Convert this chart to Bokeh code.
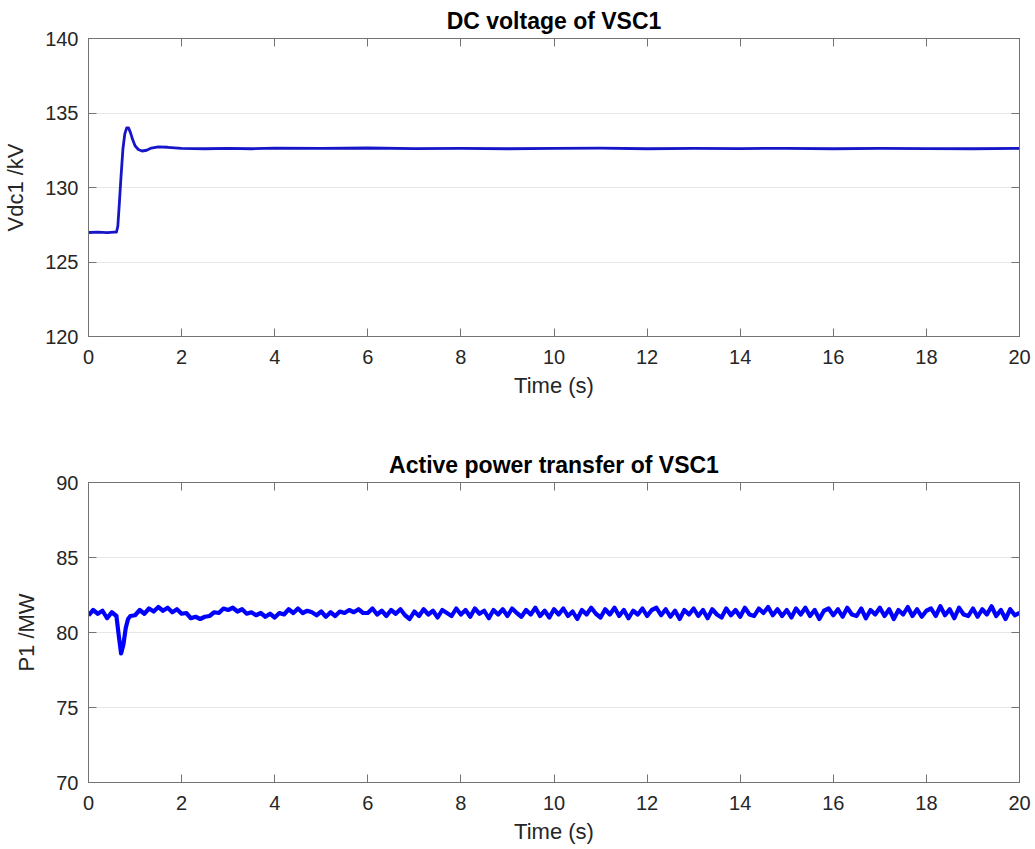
import numpy as np
from bokeh.plotting import figure
from bokeh.layouts import column
from bokeh.models import LinearAxis, Range1d, FixedTicker
from bokeh.embed import file_html
from bokeh.resources import INLINE

# ---- DC voltage of VSC1 (kV) ----
vdc_time = [0.0, 0.2, 0.4, 0.55, 0.6, 0.63, 0.66, 0.7, 0.74, 0.78,
            0.82, 0.86, 0.9, 0.95, 1.0, 1.07, 1.15, 1.25, 1.35, 1.5,
            1.7, 2.0, 2.5, 3.0, 3.5, 4.0, 5.0, 6.0, 7.0, 8.0,
            9.0, 10.0, 11.0, 12.0, 13.0, 14.0, 15.0, 16.0, 17.0, 18.0,
            19.0, 20.0]
vdc_kv = [126.98, 127.0, 126.97, 127.0, 127.0, 127.4, 128.8, 130.8, 132.6, 133.6,
          134.0, 134.0, 133.7, 133.2, 132.8, 132.55, 132.45, 132.5, 132.65, 132.72,
          132.7, 132.62, 132.6, 132.63, 132.6, 132.64, 132.62, 132.65, 132.61, 132.63,
          132.6, 132.62, 132.64, 132.6, 132.62, 132.61, 132.63, 132.6, 132.62, 132.61,
          132.6, 132.62]

# ---- Active power of VSC1 (MW) ----
# sample instants: 0.1 s before the disturbance, 0.05 s through it, 0.1 s afterwards
p1_time = np.round(np.concatenate([
    np.arange(0.0, 0.61, 0.1),
    np.arange(0.65, 0.91, 0.05),
    np.arange(1.0, 20.01, 0.1),
]), 2)
p1_mw = [
    81.15, 81.5, 81.25, 81.45, 80.95, 81.35, 81.1,
    79.8, 78.6, 79.2, 80.3, 80.9, 81.1,
    81.15, 81.5, 81.25, 81.6, 81.4, 81.7, 81.45, 81.65, 81.35, 81.55,
    81.25, 81.3, 80.95, 81.05, 80.9, 81.05, 81.1, 81.35, 81.3, 81.6,
    81.5, 81.65, 81.4, 81.55, 81.25, 81.35, 81.15, 81.3, 81.05, 81.25,
    81.0, 81.3, 81.2, 81.55, 81.3, 81.6, 81.3, 81.45, 81.35, 81.15,
    81.4, 81.05, 81.35, 81.1, 81.4, 81.3, 81.5, 81.35, 81.55, 81.3,
    81.3, 81.6, 81.2, 81.45, 81.1, 81.5, 81.25, 81.55, 81.15, 80.9,
    81.4, 81.1, 81.55, 81.2, 81.45, 81.0, 81.5, 81.3, 81.1, 81.6,
    81.2, 81.5, 81.05, 81.6, 81.25, 81.45, 80.95, 81.5, 81.2, 81.55,
    81.1, 81.6, 81.3, 81.05, 81.5, 81.2, 81.65, 81.1, 81.45, 81.0,
    81.55, 81.2, 81.6, 81.1, 81.4, 80.9, 81.5, 81.2, 81.65, 81.25,
    81.0, 81.55, 81.2, 81.65, 81.1, 81.5, 80.95, 81.45, 81.2, 81.6,
    81.1, 81.5, 81.65, 81.15, 81.55, 81.05, 81.45, 80.9, 81.5, 81.2,
    81.6, 81.1, 81.5, 80.95, 81.55, 81.2, 81.0, 81.6, 81.15, 81.5,
    81.05, 81.65, 81.2, 81.1, 81.6, 81.3, 81.7, 81.15, 81.55, 81.1,
    81.5, 81.0, 81.6, 81.2, 81.65, 81.1, 81.5, 80.9, 81.45, 81.6,
    81.15, 81.55, 81.05, 81.65, 81.2, 81.1, 81.6, 80.95, 81.5, 81.2,
    81.65, 81.1, 81.55, 80.9, 81.5, 81.2, 81.7, 81.1, 81.55, 81.05,
    81.45, 81.6, 81.1, 81.75, 81.15, 81.55, 80.95, 81.65, 81.2, 81.1,
    81.6, 81.05, 81.55, 81.2, 81.75, 81.1, 81.5, 80.9, 81.55, 81.15,
    81.3,
]

time_ticks = [0, 2, 4, 6, 8, 10, 12, 14, 16, 18, 20]
vdc_ticks = [120, 125, 130, 135, 140]
p1_ticks = [70, 75, 80, 85, 90]

FONT = "Liberation Sans"
AXIS_GRAY = "#737373"
TEXT_GRAY = "#262626"


def style_axis(ax, ticker, show_labels=True):
    ax.ticker = FixedTicker(ticks=ticker)
    ax.axis_line_color = AXIS_GRAY
    ax.major_tick_line_color = AXIS_GRAY
    ax.major_tick_in = 8
    ax.major_tick_out = 0
    ax.minor_tick_in = 0
    ax.minor_tick_out = 0
    ax.major_label_text_font = FONT
    ax.axis_label_text_font = FONT
    ax.axis_label_text_color = TEXT_GRAY
    ax.axis_label_text_font_style = "normal"
    ax.axis_label_text_font_size = "22px"
    if show_labels:
        ax.major_label_text_font_size = "20px"
        ax.major_label_text_color = TEXT_GRAY
    else:
        # tick marks only on the box sides
        ax.major_label_text_font_size = "1px"
        ax.major_label_text_color = None
        ax.major_label_standoff = 0


def make_panel(title, ylabel, t, y, yticks, color, lw, height, top, bottom):
    p = figure(width=1035, height=height,
               x_range=Range1d(0, 20), y_range=Range1d(yticks[0], yticks[-1]),
               output_backend="svg", toolbar_location=None,
               min_border_left=87, min_border_right=16,
               min_border_top=top, min_border_bottom=bottom)
    p.title.text = title
    p.title.align = "center"
    p.title.text_font = FONT
    p.title.text_font_size = "23px"
    p.title.text_font_style = "bold"
    p.title.text_color = "#000000"

    p.line(t, y, line_color=color, line_width=lw, line_join="round")

    style_axis(p.xaxis[0], time_ticks)
    style_axis(p.yaxis[0], yticks)
    p.xaxis.axis_label = "Time (s)"
    p.yaxis.axis_label = ylabel
    p.xaxis.major_label_standoff = 13
    p.yaxis.major_label_standoff = 10
    p.xaxis.axis_label_standoff = 6
    p.yaxis.axis_label_standoff = 14

    top_ax = LinearAxis()
    style_axis(top_ax, time_ticks, show_labels=False)
    p.add_layout(top_ax, "above")
    right_ax = LinearAxis()
    style_axis(right_ax, yticks, show_labels=False)
    p.add_layout(right_ax, "right")

    p.xgrid.visible = False
    p.ygrid.ticker = FixedTicker(ticks=yticks)
    p.ygrid.grid_line_color = "#e6e6e6"
    p.ygrid.grid_line_width = 1
    p.outline_line_color = AXIS_GRAY
    p.background_fill_color = "white"
    p.border_fill_color = "white"
    return p


p_top = make_panel("DC voltage of VSC1", "Vdc1 /kV", vdc_time, vdc_kv,
                   vdc_ticks, "#1616c8", 2.8, 400, 36, 64)
p_bot = make_panel("Active power transfer of VSC1", "P1 /MW", p1_time, p1_mw,
                   p1_ticks, "#0000ff", 4.2, 449, 82, 67)

p = column(p_top, p_bot, spacing=0)

open("out.html", "w").write(file_html(p, INLINE))
